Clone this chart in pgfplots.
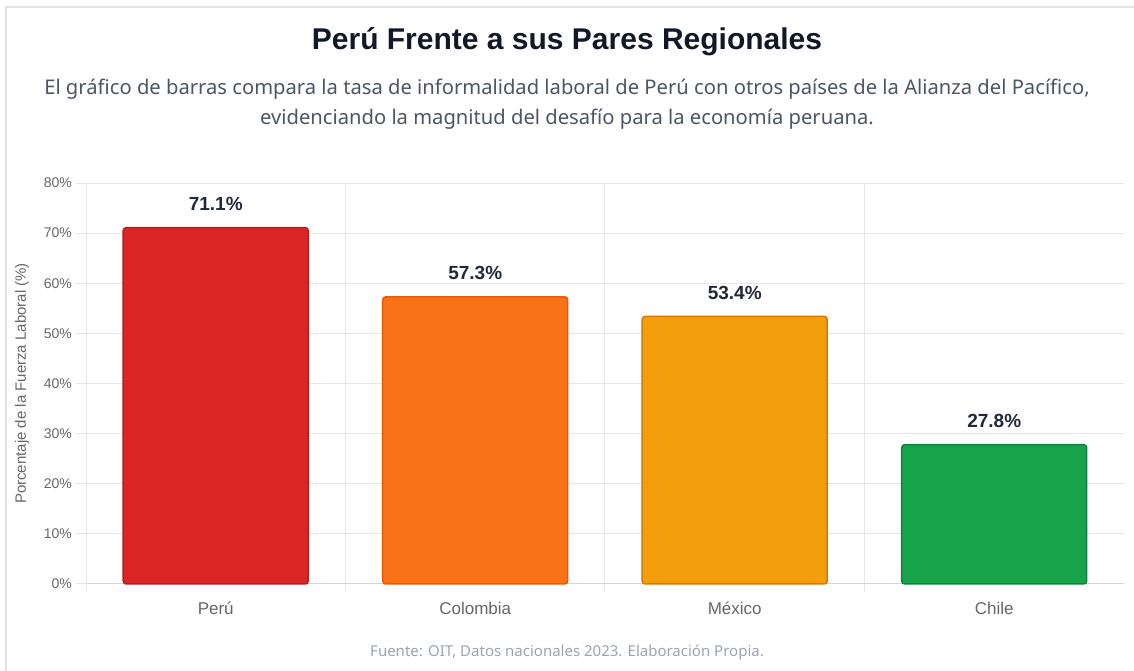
\documentclass[border=0pt]{standalone}
\usepackage{fontspec}
\setmainfont{Liberation Sans}
\newfontfamily\notofont{Noto Sans}
\usepackage{pgfplots}
\pgfplotsset{compat=1.18}
\definecolor{gridc}{HTML}{E6E6E6}
\definecolor{axisc}{HTML}{D4D4D4}
\definecolor{cardb}{HTML}{E2E2E2}
\definecolor{titlec}{HTML}{111827}
\definecolor{subc}{HTML}{4B5563}
\definecolor{tickc}{HTML}{666666}
\definecolor{valc}{HTML}{1F2937}
\definecolor{footc}{HTML}{9CA3AF}
\definecolor{cPeru}{HTML}{DC2626}\definecolor{bPeru}{HTML}{B91C1C}
\definecolor{cCol}{HTML}{F97316}\definecolor{bCol}{HTML}{EA580C}
\definecolor{cMex}{HTML}{F59E0B}\definecolor{bMex}{HTML}{D97706}
\definecolor{cChi}{HTML}{16A34A}\definecolor{bChi}{HTML}{15803D}
\begin{document}
\begin{tikzpicture}[x=1pt,y=1pt]
\path[use as bounding box] (0,0) rectangle (1134,671);
\draw[color=cardb, line width=1.5pt] (6,0) -- (6,664) -- (1134,664);
\node[font=\fontsize{30}{35}\selectfont\bfseries, text=titlec] at (567,629) {Perú Frente a sus Pares Regionales};
\node[font=\notofont\fontsize{20.2}{30}\selectfont, text=subc, align=center] at (567,567) {El gráfico de barras compara la tasa de informalidad laboral de Perú con otros países de la Alianza del Pacífico,\\evidenciando la magnitud del desafío para la economía peruana.};
\begin{axis}[
  at={(86pt,87pt)}, anchor=south west,
  scale only axis, width=1038pt, height=401pt,
  xmin=-0.5, xmax=3.5, ymin=0, ymax=80,
  /pgf/number format/assume math mode=true,
  axis x line*=bottom, axis y line*=left,
  x axis line style={draw=axisc, line width=1pt, -},
  y axis line style={draw=none},
  tick align=outside,
  xtick={0,1,2,3},
  xticklabels={Perú,Colombia,México,Chile},
  major x tick style={draw=none},
  minor xtick={-0.5,0.5,1.5,2.5},
  minor x tick style={draw=gridc, line width=1pt},
  minor tick length=8pt,
  minor x grid style={draw=gridc, line width=1pt},
  xminorgrids=true,
  ytick={0,10,...,80},
  yticklabel={\pgfmathprintnumber{\tick}\%},
  major y tick style={draw=gridc, line width=1pt},
  major tick length=10pt,
  ymajorgrids=true,
  major y grid style={draw=gridc, line width=1pt},
  yticklabel style={font=\fontsize{14}{16}\selectfont, text=tickc, anchor=east, inner sep=0pt, xshift=-4pt},
  xticklabel style={font=\fontsize{17}{19}\selectfont, text=tickc, anchor=north, inner sep=0pt, yshift=-8pt},
  nodes near coords={\pgfmathprintnumber[fixed,fixed zerofill,precision=1]{\pgfplotspointmeta}\%},
  nodes near coords style={font=\fontsize{19}{22}\selectfont\bfseries, text=valc, anchor=base, inner sep=0pt, yshift=17pt},
  clip=false,
]
\addplot[ybar, bar width=185pt, bar shift=0pt, fill=cPeru, draw=bPeru, line width=1.5pt, rounded corners=3pt] coordinates {(0,71.1)};
\addplot[ybar, bar width=185pt, bar shift=0pt, fill=cCol, draw=bCol, line width=1.5pt, rounded corners=3pt] coordinates {(1,57.3)};
\addplot[ybar, bar width=185pt, bar shift=0pt, fill=cMex, draw=bMex, line width=1.5pt, rounded corners=3pt] coordinates {(2,53.4)};
\addplot[ybar, bar width=185pt, bar shift=0pt, fill=cChi, draw=bChi, line width=1.5pt, rounded corners=3pt] coordinates {(3,27.8)};
\end{axis}
\node[rotate=90, font=\fontsize{15}{17}\selectfont, text=tickc] at (22,287.5) {Porcentaje de la Fuerza Laboral (\%)};
\node[font=\notofont\fontsize{15}{17}\selectfont, text=footc] at (567,18) {Fuente: OIT, Datos nacionales 2023. Elaboración Propia.};
\end{tikzpicture}
\end{document}
